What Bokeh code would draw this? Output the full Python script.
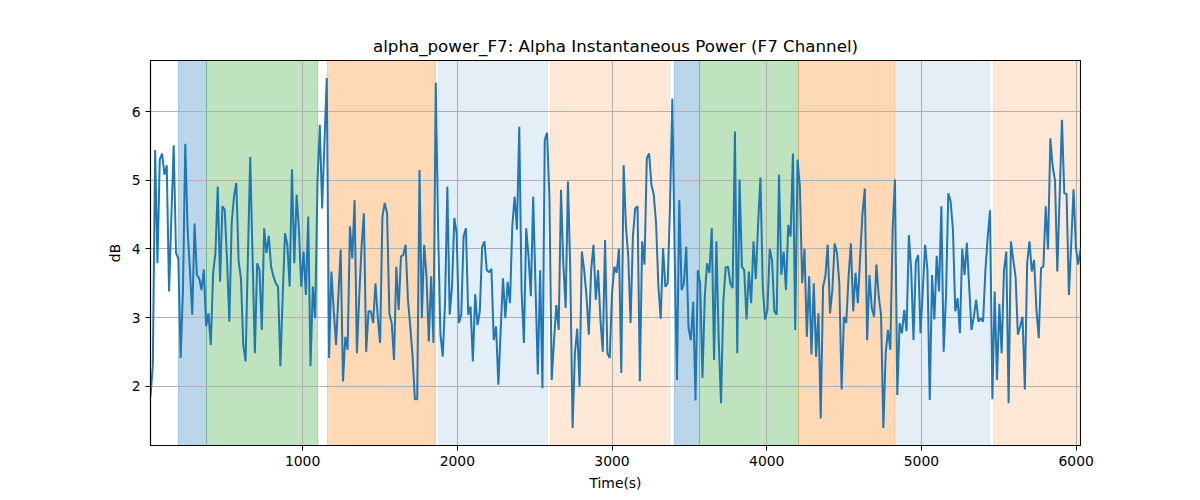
import numpy as np
from bokeh.plotting import figure
from bokeh.models import Range1d, SingleIntervalTicker, ColumnDataSource
from bokeh.embed import file_html
from bokeh.resources import INLINE

alpha_power_db = [
    # ~17 .. ~990 s
    1.85, 2.30, 5.44, 3.79, 5.30, 5.39, 5.08, 5.22, 3.38, 4.47,
    5.51, 3.94, 3.86, 2.41, 3.40, 5.53, 4.28, 3.69, 3.04, 4.37,
    3.62, 3.57, 3.40, 3.70, 2.87, 3.06, 2.60, 3.65, 3.94, 4.91,
    3.52, 4.62, 4.57, 3.84, 2.94, 4.37, 4.76, 4.96, 3.82, 3.57,
    2.60, 2.36, 3.89, 5.34, 3.89, 2.48, 3.79, 3.69, 2.82, 4.30,
    3.94, 4.19, 3.74, 3.60, 3.50, 3.45, 2.29, 3.31, 4.23, 4.06,
    3.45, 5.16, 3.79, 4.79, 4.28, 3.45,
    # ~1000 .. ~2000 s
    3.96, 3.33, 4.47, 2.29, 3.45, 2.99, 4.96, 5.81, 4.59, 5.54,
    6.49, 2.41, 3.67, 3.11, 2.60, 3.31, 3.99, 2.07, 2.72, 2.53,
    4.33, 3.86, 4.71, 2.48, 3.31, 4.03, 4.52, 2.50, 3.09, 3.09,
    2.92, 3.50, 3.01, 2.63, 4.47, 4.67, 4.52, 3.06, 2.92, 2.38,
    3.74, 3.11, 3.89, 3.91, 4.06, 3.26, 2.87, 2.43, 1.81, 1.81,
    5.15, 2.99, 4.06, 3.60, 2.65, 3.60, 2.63, 6.42, 4.28, 2.77,
    2.43, 3.21, 4.91, 3.04, 3.45, 4.45, 4.23,
    # ~2000 .. ~3000 s
    2.92, 3.04, 4.18, 4.30, 3.04, 3.16, 2.36, 3.34, 2.89, 3.09,
    4.03, 4.11, 3.69, 3.66, 3.71, 2.67, 2.87, 2.02, 2.82, 3.57,
    2.99, 3.52, 3.21, 4.33, 4.76, 4.28, 5.78, 3.40, 2.63, 4.30,
    3.89, 3.31, 4.76, 3.47, 2.17, 3.69, 1.97, 5.59, 5.69, 4.76,
    2.09, 2.67, 3.18, 2.82, 4.86, 3.79, 3.14, 4.98, 3.69, 1.39,
    2.48, 2.84, 1.99, 3.96, 3.69, 3.31, 2.75, 3.69, 4.06, 3.26,
    3.69, 2.97, 2.50, 4.13, 2.48, 2.41, 3.35,
    # ~3000 .. ~4000 s
    3.74, 3.65, 4.00, 2.19, 5.22, 4.33, 3.89, 2.92, 4.18, 4.59,
    4.62, 2.07, 4.11, 3.77, 5.32, 5.39, 4.93, 4.79, 4.37, 3.45,
    2.98, 4.01, 3.45, 3.50, 4.62, 6.19, 3.94, 2.09, 4.71, 3.40,
    3.50, 4.03, 2.84, 2.67, 3.23, 1.79, 3.69, 3.50, 2.12, 3.31,
    3.79, 3.65, 4.30, 2.38, 4.11, 2.67, 1.75, 3.23, 3.73, 3.74,
    3.50, 3.43, 5.71, 2.48, 5.01, 3.74, 3.69, 2.97, 3.67, 3.21,
    4.11, 3.56, 4.37, 5.04, 3.45, 2.97, 3.11,
    # ~4000 .. ~5000 s
    4.00, 3.84, 3.09, 3.04, 5.08, 3.62, 3.96, 3.40, 4.35, 4.18,
    5.39, 2.82, 5.30, 4.91, 3.50, 4.00, 2.72, 3.60, 2.46, 3.50,
    2.43, 3.06, 1.53, 3.45, 3.60, 4.06, 3.06, 3.40, 4.08, 3.94,
    3.50, 1.95, 3.01, 2.92, 3.60, 4.08, 3.09, 3.65, 3.21, 3.89,
    4.52, 4.88, 2.67, 3.62, 3.14, 3.01, 3.77, 3.31, 3.04, 1.39,
    2.48, 2.82, 2.53, 4.28, 5.01, 1.87, 2.92, 2.77, 3.11, 2.80,
    4.20, 3.69, 2.67, 3.82, 3.91, 2.77, 3.40,
    # ~5000 .. ~6028 s
    4.06, 3.69, 1.80, 3.62, 2.97, 3.90, 3.38, 4.62, 2.50, 3.31,
    4.81, 4.69, 4.28, 3.09, 3.28, 2.77, 4.00, 3.62, 4.09, 3.45,
    2.82, 3.01, 3.26, 2.94, 2.99, 2.94, 3.69, 4.18, 4.56, 1.81,
    3.38, 2.09, 3.20, 2.48, 3.69, 3.96, 1.75, 4.11, 3.84, 3.60,
    2.75, 2.87, 3.01, 1.95, 3.79, 4.11, 3.67, 3.84, 3.11, 2.70,
    3.72, 3.74, 4.62, 3.99, 5.61, 5.20, 5.00, 3.67, 4.76, 5.88,
    4.81, 4.80, 3.33, 4.08, 4.87, 4.03, 3.77, 3.99,
]
time_first, time_last = 17.0, 6028.0
time_s = np.linspace(time_first, time_last, len(alpha_power_db))

# shaded segments
seg_start = [199, 378, 1163, 1876, 2600, 3401, 3565, 4208, 4833, 5468]
seg_end = [378, 1095, 1859, 2583, 3373, 3565, 4204, 4829, 5438, 6040]
seg_color = ["#1f77b4", "#2ca02c", "#ff7f0e", "#1f77b4", "#ff7f0e",
             "#1f77b4", "#2ca02c", "#ff7f0e", "#1f77b4", "#ff7f0e"]
seg_alpha = [0.3, 0.3, 0.3, 0.12, 0.17, 0.3, 0.3, 0.3, 0.12, 0.17]

x_ticks_step = 1000
y_ticks_step = 1

ymin, ymax = min(alpha_power_db), max(alpha_power_db)
pad = 0.05 * (ymax - ymin)

FONT = "DejaVu Sans"

p = figure(
    frame_width=930, frame_height=385,
    min_border_left=150, min_border_right=104,
    min_border_top=60, min_border_bottom=39,
    output_backend="svg", toolbar_location=None,
    x_range=Range1d(time_first, time_last),
    y_range=Range1d(ymin - pad, ymax + pad),
    title="alpha_power_F7: Alpha Instantaneous Power (F7 Channel)",
)
p.background_fill_color = "white"
p.border_fill_color = "white"
p.outline_line_color = "black"
p.outline_line_width = 1.1

p.title.align = "center"
p.title.text_font = FONT
p.title.text_font_size = "16.7px"
p.title.text_font_style = "normal"
p.title.text_color = "black"

seg_src = ColumnDataSource(dict(x0=seg_start, x1=seg_end, color=seg_color, alpha=seg_alpha))
p.vstrip(x0="x0", x1="x1", source=seg_src, fill_color="color", fill_alpha="alpha",
         line_color="color", line_alpha="alpha", line_width=1, level="image")

p.line(time_s, alpha_power_db, line_color="#1f77b4", line_width=2.0)

p.xaxis.ticker = SingleIntervalTicker(interval=x_ticks_step)
p.yaxis.ticker = SingleIntervalTicker(interval=y_ticks_step)
p.xaxis.axis_label = "Time(s)"
p.yaxis.axis_label = "dB"

for ax in (p.xaxis, p.yaxis):
    ax.axis_label_text_font = FONT
    ax.axis_label_text_font_size = "13.9px"
    ax.axis_label_text_font_style = "normal"
    ax.axis_label_text_color = "black"
    ax.major_label_text_font = FONT
    ax.major_label_text_font_size = "13.9px"
    ax.major_label_text_color = "black"
    ax.axis_line_color = "black"
    ax.axis_line_width = 1.1
    ax.major_tick_line_color = "black"
    ax.major_tick_line_width = 1.1
    ax.major_tick_out = 5
    ax.major_tick_in = 0
    ax.minor_tick_line_color = None
    ax.major_label_standoff = 5
    ax.axis_label_standoff = 6

for g in (p.xgrid, p.ygrid):
    g.grid_line_color = "#b0b0b0"
    g.grid_line_width = 1.1

open("out.html", "w").write(file_html(p, INLINE))
